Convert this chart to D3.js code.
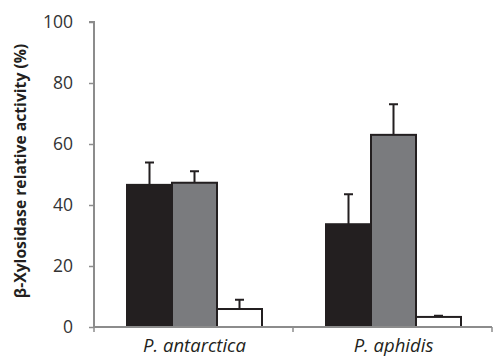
<!DOCTYPE html>
<html>
<head>
<meta charset="utf-8">
<script src="https://cdn.jsdelivr.net/npm/d3@7"></script>
<style>
  body { margin: 0; background: #fff; }
  svg text { font-family: "Open Sans", "Liberation Sans", sans-serif; }
</style>
</head>
<body>
<div id="canvas"></div>
<script>
// data
var species = ['P. antarctica', 'P. aphidis'];
var treatments = ['black', 'gray', 'white'];
var means = [[46.6, 47.3, 5.9], [33.7, 63.0, 3.3]];
var errors = [[7.3, 3.8, 3.0], [9.8, 10.0, 0.4]];
var yTicks = [0, 20, 40, 60, 80, 100];

var W = 494, H = 357;
var m = {t:22, r:2, b:30, l:94},
    w = W - m.l - m.r,
    h = H - m.t - m.b;

var svg = d3.select('#canvas').append('svg')
    .attr('width', W).attr('height', H);

var plot = svg.append('g').attr('transform', 'translate(' + m.l + ',' + m.t + ')');

var x = d3.scaleBand().domain(species).range([0, 398]).paddingInner(0).paddingOuter(0);
var xs = d3.scaleBand().domain(treatments).range([33, x.bandwidth() - 31]);
var y = d3.scaleLinear().domain([0, 100]).range([h, 0]);

var fill = {black: '#231f20', gray: '#7a7b7e', white: '#ffffff'};

// y axis
var yAxis = plot.append('g')
    .call(d3.axisLeft(y).tickValues(yTicks).tickSize(5).tickPadding(16));
yAxis.select('.domain').attr('stroke', '#8c8c8c').attr('stroke-width', 2).attr('d', 'M-5,0H0V' + h);
yAxis.selectAll('.tick line').attr('stroke', '#8c8c8c').attr('stroke-width', 1.5);
yAxis.selectAll('.tick text').attr('fill', '#333').style('font-size', '17.5px');

// bars
var groups = plot.selectAll('.grp').data(species).enter().append('g')
    .attr('class', 'grp')
    .attr('transform', function(d){ return 'translate(' + x(d) + ',0)'; });

groups.each(function(sp, i){
  var g = d3.select(this);
  var rows = treatments.map(function(t, j){ return {t: t, v: means[i][j], e: errors[i][j]}; });

  g.selectAll('.err').data(rows).enter().append('path')
      .attr('class', 'err')
      .attr('fill', 'none').attr('stroke', '#231f20').attr('stroke-width', 2)
      .attr('d', function(d){
        var cx = xs(d.t) + xs.bandwidth() / 2, top = y(d.v + d.e);
        return 'M' + cx + ',' + y(d.v) + 'V' + top + 'M' + (cx - 4.5) + ',' + top + 'H' + (cx + 4.5);
      });

  g.selectAll('.bar').data(rows).enter().append('rect')
      .attr('class', 'bar')
      .attr('x', function(d){ return xs(d.t); })
      .attr('y', function(d){ return y(d.v); })
      .attr('width', xs.bandwidth())
      .attr('height', function(d){ return h - y(d.v); })
      .attr('fill', function(d){ return fill[d.t]; })
      .attr('stroke', '#231f20').attr('stroke-width', 2);
});

// x axis
var xAxis = plot.append('g').attr('transform', 'translate(0,' + h + ')');
xAxis.append('line').attr('x1', 0).attr('x2', 398).attr('y1', 0).attr('y2', 0)
    .attr('stroke', '#8c8c8c').attr('stroke-width', 2);
xAxis.selectAll('.xt').data([0, 1, 2]).enter().append('line')
    .attr('x1', function(d){ return d * x.step(); })
    .attr('x2', function(d){ return d * x.step(); })
    .attr('y1', 0).attr('y2', 5)
    .attr('stroke', '#8c8c8c').attr('stroke-width', 1.5);
xAxis.selectAll('.xl').data(species).enter().append('text')
    .attr('x', function(d){ return x(d) + x.bandwidth() / 2 + 1; })
    .attr('y', 25)
    .attr('text-anchor', 'middle')
    .attr('fill', '#231f20')
    .style('font-size', '18.5px').style('font-style', 'italic')
    .text(function(d){ return d; });

// y label
svg.append('text')
    .attr('transform', 'translate(26,' + 171 + ') rotate(-90)')
    .attr('text-anchor', 'middle')
    .attr('fill', '#231f20')
    .style('font-size', '15.7px').style('font-weight', 'bold')
    .text('β-Xylosidase relative activity (%)');
</script>
</body>
</html>
